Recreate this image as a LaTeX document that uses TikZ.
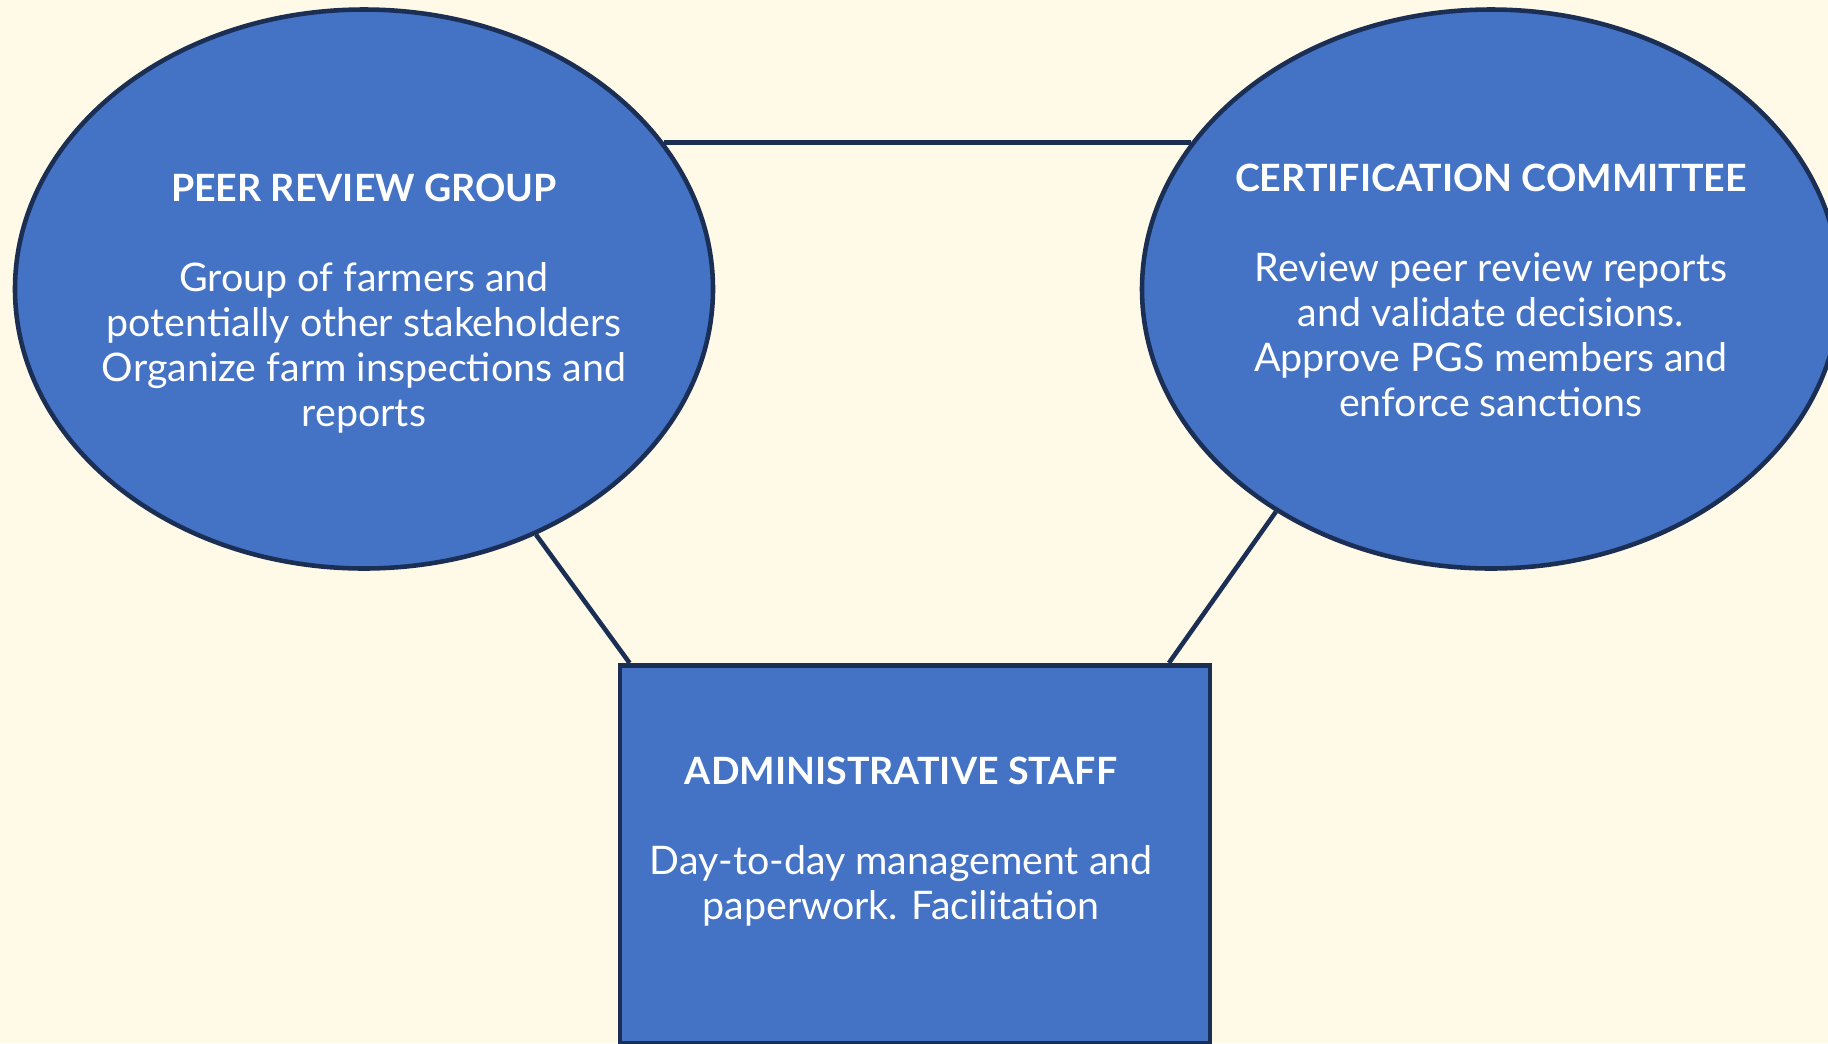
\documentclass[tikz,border=0pt]{standalone}
\usepackage{fontspec}
\setmainfont{Lato}
\usetikzlibrary{shapes.geometric,calc}

\definecolor{cream}{HTML}{FFF9E8}
\definecolor{roleblue}{HTML}{4472C4}
\definecolor{navy}{HTML}{1B2F55}

\tikzset{
  role/.style={draw=navy,fill=roleblue,line width=1.3pt,inner sep=0pt},
  roletext/.style={text=white,align=center,inner sep=0pt,
    font=\fontsize{11.2}{12.8}\selectfont},
  link/.style={navy,line width=1.3pt}
}
\newcommand{\roletitle}[1]{{\fontsize{10.7}{12.8}\selectfont\bfseries #1}\\[12.8pt]}

\begin{document}
\begin{tikzpicture}[x=0.1mm,y=-0.1mm]
\fill[cream] (0,0) rectangle (1828,1043);
\useasboundingbox (0,0) rectangle (1828,1043);
\clip (0,0) rectangle (1828,1043);

% the three bodies
\node[role,ellipse,minimum width=69.8mm,minimum height=55.9mm] (peer) at (364,289) {};
\node[role,ellipse,minimum width=69.8mm,minimum height=55.9mm] (cert) at (1491,289) {};
\node[role,rectangle,minimum width=59mm,minimum height=37.8mm,anchor=north] (staff) at (915,663) {};

\node[roletext] (peertxt) at ($(peer)+(0,15)$) {\roletitle{PEER REVIEW GROUP}
Group of farmers and\\ potentially other stakeholders\\ Organize farm inspections and\\ reports};
\node[roletext] (certtxt) at ($(cert)+(0,1)$) {\roletitle{CERTIFICATION COMMITTEE}
Review peer review reports\\ and validate decisions.\\ Approve PGS members and\\ enforce sanctions};
\node[roletext] (stafftxt) at ($(staff)+(-14,-13)$) {\roletitle{ADMINISTRATIVE STAFF}
Day-to-day management and\\ paperwork. Facilitation};

% links
\draw[link] (peer.26) -- (cert.154);
\draw[link] (peer.-55) -- ($(staff.north west)!0.02!(staff.north east)$);
\draw[link] (cert.226.5) -- ($(staff.north west)!0.927!(staff.north east)$);
\end{tikzpicture}
\end{document}
